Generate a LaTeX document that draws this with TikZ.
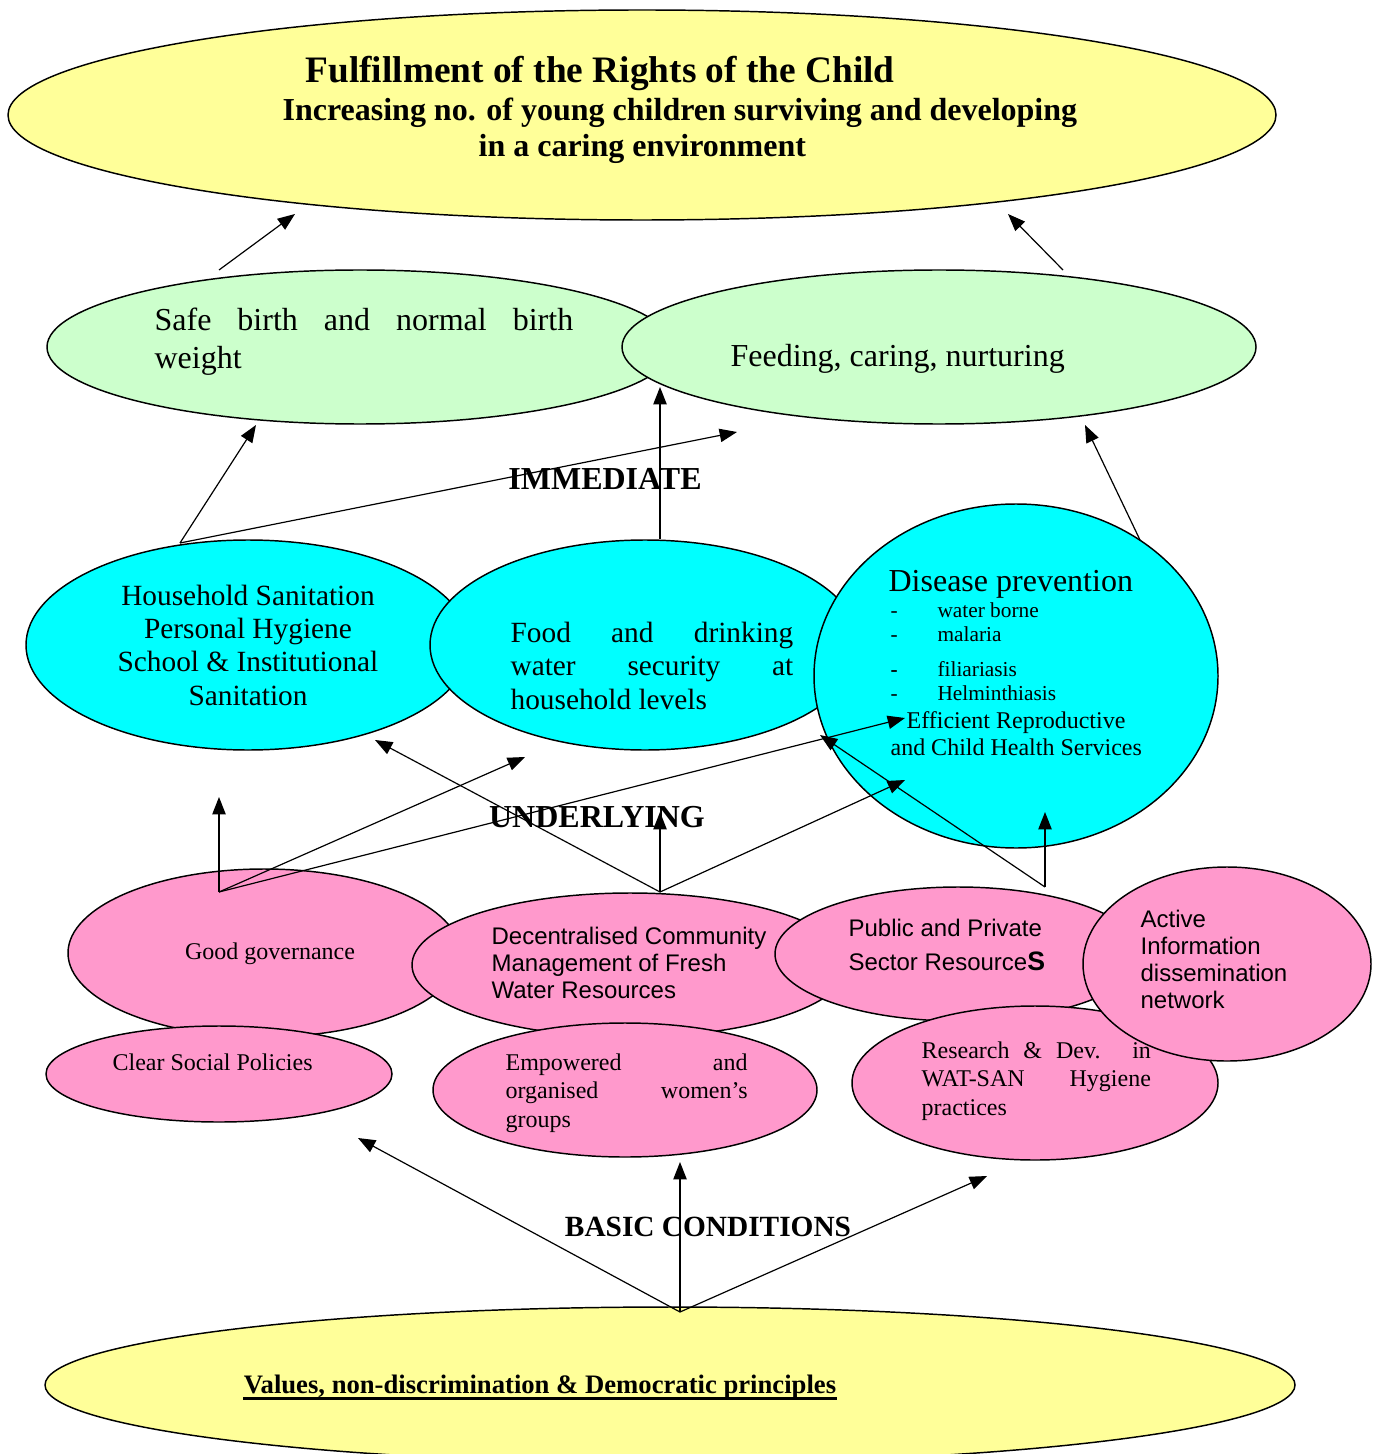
\documentclass[tikz,border=0pt]{standalone}
\usepackage{fontspec}
\setmainfont{Liberation Serif}
\setsansfont{Liberation Sans}
\usetikzlibrary{shapes.geometric,arrows.meta}
\definecolor{paleyellow}{HTML}{FFFF99}
\definecolor{palegreen}{HTML}{CCFFCC}
\definecolor{aqua}{HTML}{00FFFF}
\definecolor{rose}{HTML}{FF99CC}
\newcommand{\fs}[2]{\fontsize{#1}{#2}\selectfont}
\newcommand{\jl}[2]{\makebox[#1][s]{#2}}

\begin{document}
\begin{tikzpicture}[x=0.375pt, y=-0.375pt, line width=0.45pt, >={Triangle[length=6.5pt,width=5pt]},
  oval/.style 2 args={ellipse, draw, line width=0.55pt, inner sep=0pt, minimum width=#1*0.75pt, minimum height=#2*0.75pt},
  txt/.style={anchor=base west, inner sep=0pt, align=left}]
\useasboundingbox (0,0) rectangle (1380,1454);
% ovals, back to front
\node[oval={634}{105}, fill=paleyellow] (goal) at (642,115) {};
\node[oval={313}{77}, fill=palegreen] (safe) at (360,347) {};
\node[oval={317}{77}, fill=palegreen] (feed) at (939,347) {};
\node[oval={222}{105}, fill=aqua] (hh) at (248,645) {};
\node[oval={215}{105}, fill=aqua] (food) at (645,645) {};
\node[oval={202}{172}, fill=aqua] (dis) at (1016,676) {};
\node[oval={196}{84}, fill=rose] (gov) at (264,953) {};
\node[oval={218}{72}, fill=rose] (dec) at (630,965) {};
\node[oval={183}{67}, fill=rose] (pub) at (958,954) {};
\node[oval={173}{48}, fill=rose] (pol) at (219,1074) {};
\node[oval={192}{67}, fill=rose] (wom) at (625,1090) {};
\node[oval={183}{77}, fill=rose] (res) at (1035,1083) {};
\node[oval={144}{97}, fill=rose] (info) at (1227,964) {};
\node[oval={625}{78}, fill=paleyellow] (vals) at (670,1385) {};

% texts (multi-line ones sit on their last baseline)
\node[txt, font=\bfseries\fs{14}{16}] (t1) at (305,83) {Fulfillment of the Rights of the Child};
\node[txt, font=\bfseries\fs{12}{14}] (t2) at (282,121) {Increasing no. of young children surviving and developing};
\node[txt, font=\bfseries\fs{12}{14}] (t3) at (478,157) {in a caring environment};
\node[txt, font=\fs{12}{14.25}] (safetxt) at (154,369) {\jl{157pt}{Safe birth and normal birth}\\weight};
\node[txt, font=\fs{12}{14}] (feedtxt) at (730,367) {Feeding, caring, nurturing};
\node[anchor=base, inner sep=0pt, align=center, font=\fs{11}{12.5}] (hhtxt) at (248,705) {Household Sanitation\\Personal Hygiene\\School \& Institutional\\Sanitation};
\node[txt, font=\fs{11}{12.5}] (foodtxt) at (510,709) {\jl{106pt}{Food and drinking}\\\jl{106pt}{water security at}\\household levels};
\node[txt, font=\fs{12}{14}] (distxt) at (888,591) {Disease prevention};
\foreach \y/\d/\m in {617/water borne/-, 641/malaria/-, 676/filiariasis/\textbf{-}, 700/Helminthiasis/-}
  \node[txt, font=\fs{8}{9}] at (890,\y) {\makebox[17.6pt][l]{\m}\d};
\node[txt, font=\fs{9}{10.1}] (rchtxt) at (890,755) {\hspace*{6pt}Efficient Reproductive\\and Child Health Services};
\node[anchor=base, font=\bfseries\fs{12}{14}] (lvl1) at (605,489) {IMMEDIATE};
\node[anchor=base, font=\bfseries\fs{12}{14}] (lvl2) at (597,827) {UNDERLYING};
\node[anchor=base, font=\bfseries\fs{11}{12}] (lvl3) at (708,1236) {BASIC CONDITIONS};
\node[anchor=base, inner sep=0pt, font=\bfseries\fs{10}{11}] (valtxt) at (540,1393) {Values, non-discrimination \& Democratic principles};
\draw[line width=1.1pt] ([yshift=-2.2pt]valtxt.base west) -- ([yshift=-2.2pt]valtxt.base east);
\node[anchor=base, font=\fs{9}{10}] (govtxt) at (270,959) {Good governance};
\node[txt, font=\fs{9}{10}] (poltxt) at (112,1070) {Clear Social Policies};
\node[txt, font=\sffamily\fs{9}{10.1}] (dectxt) at (491,998) {Decentralised Community\\Management of Fresh\\Water Resources};
\node[txt, font=\sffamily\fs{9}{12.75}] (pubtxt) at (848,970) {Public and Private\\Sector Resource{\bfseries\fs{10}{12.75}S}};
\node[txt, font=\sffamily\fs{9}{10.1}] (infotxt) at (1140,1008) {Active\\Information\\dissemination\\network};
\node[txt, font=\fs{9}{10.6}] (womtxt) at (505,1127) {\jl{90.75pt}{Empowered and}\\\jl{90.75pt}{organised women’s}\\groups};
\node[txt, font=\fs{9}{10.6}] (restxt) at (921,1115) {\jl{86pt}{Research \& Dev. in}\\\jl{86pt}{WAT-SAN Hygiene}\\practices};

% arrow ends
\coordinate (safe-out) at (219,270); \coordinate (goal-l) at (295,214);
\coordinate (feed-out) at (1063,270); \coordinate (goal-r) at (1008,214);
\coordinate (hh-out) at (180,543); \coordinate (safe-in) at (256,425); \coordinate (feed-in1) at (737,432);
\coordinate (food-out) at (660,539); \coordinate (feed-in2) at (660,387);
\coordinate (dis-out) at (1140,540); \coordinate (feed-in3) at (1085,425);
\coordinate (gov-out) at (219,892); \coordinate (hh-in1) at (219,797); \coordinate (food-in1) at (525,757); \coordinate (dis-in1) at (905,718);
\coordinate (dec-out) at (660,892); \coordinate (hh-in2) at (375,740); \coordinate (food-in2) at (660,812); \coordinate (dis-in2) at (905,780);
\coordinate (pub-out) at (1045,887); \coordinate (dis-in3) at (1045,812); \coordinate (dis-in4) at (820,735);
\coordinate (vals-out) at (680,1312); \coordinate (pol-in) at (358,1138); \coordinate (wom-in) at (680,1162); \coordinate (res-in) at (987,1176);

% arrows
\draw[->] (safe-out) -- (goal-l);
\draw[->] (feed-out) -- (goal-r);
\foreach \e in {safe-in,feed-in1} \draw[->] (hh-out) -- (\e);
\draw[->] (food-out) -- (feed-in2);
\draw[->] (dis-out) -- (feed-in3);
\foreach \e in {hh-in1,food-in1,dis-in1} \draw[->] (gov-out) -- (\e);
\foreach \e in {hh-in2,food-in2,dis-in2} \draw[->] (dec-out) -- (\e);
\foreach \e in {dis-in3,dis-in4} \draw[->] (pub-out) -- (\e);
\foreach \e in {pol-in,wom-in,res-in} \draw[->] (vals-out) -- (\e);
\end{tikzpicture}
\end{document}
